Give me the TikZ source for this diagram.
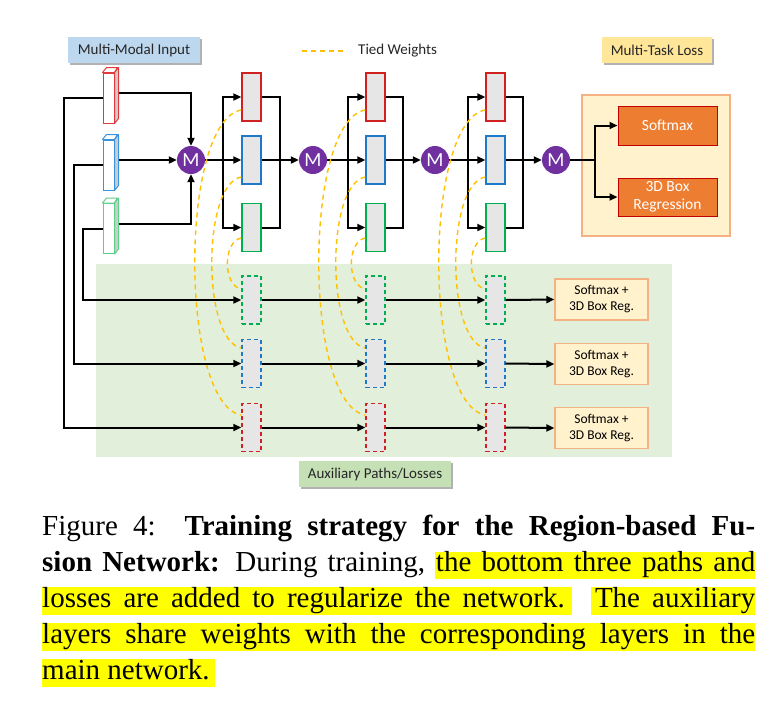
\documentclass[tikz,border=0pt]{standalone}
\usepackage{fontspec}
\setmainfont{Carlito}
\newfontfamily\capfont{Liberation Serif}
\usetikzlibrary{arrows.meta,shadows,calc}
\definecolor{cred}{HTML}{D02020}
\definecolor{cblue}{HTML}{1F78C8}
\definecolor{cgreen}{HTML}{00B050}
\definecolor{cgreenl}{HTML}{5FD08A}
\definecolor{cbluel}{HTML}{3C92DC}
\definecolor{credl}{HTML}{E03A3A}
\definecolor{blkfill}{HTML}{E6E6E6}
\definecolor{mpurple}{HTML}{7030A0}
\definecolor{tiedcol}{HTML}{FFC000}
\definecolor{auxbg}{HTML}{E2EFDA}
\definecolor{auxlab}{HTML}{C5E0B4}
\definecolor{inlab}{HTML}{BDD7EE}
\definecolor{losslab}{HTML}{FFE699}
\definecolor{lossbg}{HTML}{FFF2CC}
\definecolor{lossborder}{HTML}{F4B183}
\definecolor{orangebox}{HTML}{ED7D31}
\definecolor{orangeborder}{HTML}{C00000}
\definecolor{hly}{HTML}{FFFF00}
\begin{document}
\begin{tikzpicture}[x=1pt,y=-1pt,
  blk/.style={rectangle, minimum width=19pt, minimum height=48pt, inner sep=0pt, fill=blkfill, line width=1.4pt},
  blkaux/.style={blk, dashed, dash pattern=on 4pt off 3pt},
  wire/.style={line width=2pt, black},
  arr/.style={wire, -{Triangle[length=8pt,width=7pt]}},
  tiedline/.style={draw=tiedcol, line width=1.4pt, dash pattern=on 5pt off 4pt},
  lab/.style={rectangle, inner sep=0pt, text=black!85, font=\fontsize{15}{16}\selectfont, minimum height=26pt, drop shadow={shadow xshift=2pt, shadow yshift=-2pt, fill=black, opacity=0.3}},
  mcirc/.style={circle, fill=mpurple, minimum size=28pt, inner sep=0pt, text=white, font=\fontsize{20}{20}\selectfont},
  infront/.style={rectangle, minimum width=11pt, minimum height=50pt, inner sep=0pt, fill=white, line width=1pt},
  outbox/.style={rectangle, draw=lossborder, fill=lossbg, line width=1.2pt, minimum width=93pt, minimum height=41pt, inner sep=0pt, align=center, font=\fontsize{13.5}{16}\selectfont},
  losstask/.style={rectangle, draw=orangeborder, fill=orangebox, line width=1pt, minimum width=99pt, inner sep=0pt, align=center, text=white, font=\fontsize{15.5}{18}\selectfont},
  capline/.style={anchor=base west, inner sep=0pt, font=\capfont\fontsize{29}{35}\selectfont}
]
\useasboundingbox (0,0) rectangle (778,724);
\fill[white] (0,0) rectangle (778,724);

% backgrounds
\node[rectangle, fill=auxbg, minimum width=576pt, minimum height=193pt, inner sep=0pt] (auxbg) at (384,360.5) {};
\node[rectangle, draw=lossborder, fill=lossbg, line width=1.2pt, minimum width=148pt, minimum height=141pt, inner sep=0pt] (lossbg) at (656,165.5) {};

% labels
\node[lab, fill=inlab, minimum width=132pt] (inlab) at (134,50) {Multi-Modal Input};
\node[lab, fill=losslab, minimum width=110pt] (losslab) at (657,50) {Multi-Task Loss};
\node[lab, fill=auxlab, minimum width=152pt] (auxlab) at (375,474) {Auxiliary Paths/Losses};
\coordinate (tw1) at (302,51);
\coordinate (tw2) at (343,51);
\draw[tiedline] (tw1) -- (tw2);
\node[anchor=west, inner sep=0pt, text=black!85, font=\fontsize{15}{16}\selectfont] (twlab) at (358,51) {Tied Weights};

% input cuboids
\foreach \n/\c/\y in {inR/credl/98, inB/cbluel/165, inG/cgreenl/228.5}{
  \node[infront, draw=\c] (\n) at (108.5,\y) {};
  \draw[\c, line width=1pt, fill=white, line join=round] (\n.north west) -- ++(4,-5) -- ++(11,0) -- (\n.north east) -- cycle;
  \draw[\c, line width=1pt, fill=black!20, line join=round] (\n.north east) -- ++(4,-5) -- ($(\n.south east)+(4,-5)$) -- (\n.south east) -- cycle;
}

% merge nodes
\node[mcirc] (M1) at (191,160) {M};
\node[mcirc] (M2) at (313,160) {M};
\node[mcirc] (M3) at (435,160) {M};
\node[mcirc] (M4) at (556,160) {M};

% inputs to M1
\draw[arr] ($(inR.east)+(4,-5)$) -| (M1.north);
\draw[arr] ($(inB.east)+(4,-5)$) -- (M1.west);
\draw[arr] ($(inG.east)+(4,-5)$) -| (M1.south);

% stages
\foreach \s/\x/\b/\r in {1/251.5/223/280, 2/375.5/348/403, 3/495.5/468/523}{
  \pgfmathtruncatemacro\nx{\s+1}
  \node[blk, draw=cred] (r\s) at (\x,97) {};
  \node[blk, draw=cblue] (b\s) at (\x,160) {};
  \node[blk, draw=cgreen] (g\s) at (\x,227.5) {};
  \node[blkaux, draw=cgreen] (ag\s) at (\x,300) {};
  \node[blkaux, draw=cblue] (ab\s) at (\x,363.5) {};
  \node[blkaux, draw=cred] (ar\s) at (\x,427.5) {};
  \coordinate (br\s) at (\b,160);
  \coordinate (mg\s) at (\r,160);
  \draw[wire] (M\s.east) -- (br\s);
  \draw[arr] (br\s) -- (b\s.west);
  \draw[arr] (br\s) |- (r\s.west);
  \draw[arr] (br\s) |- (g\s.west);
  \draw[wire] (r\s.east) -| (mg\s);
  \draw[wire] (g\s.east) -| (mg\s);
  \draw[arr] (b\s.east) -- (M\nx.west);
  % tied weights
  \draw[tiedline] ([yshift=-13pt]r\s.west) to[out=190,in=170,looseness=0.53] ([yshift=12.5pt]ar\s.west);
  \draw[tiedline] ([yshift=-17pt]b\s.west) to[out=190,in=170,looseness=0.6] ([yshift=15.5pt]ab\s.west);
  \draw[tiedline] ([yshift=-10.5pt]g\s.west) to[out=190,in=170,looseness=0.95] ([yshift=11pt]ag\s.west);
}

% auxiliary paths
\coordinate (kR) at (64,0);
\coordinate (kB) at (74,0);
\coordinate (kG) at (83,0);
\draw[arr] (inR.west) -- (inR.west -| kR) |- (ar1.west);
\draw[arr] (inB.west) -- (inB.west -| kB) |- (ab1.west);
\draw[arr] (inG.west) -- (inG.west -| kG) |- (ag1.west);

\node[outbox] (og) at (601.5,299.5) {Softmax +\\3D Box Reg.};
\node[outbox] (ob) at (601.5,364) {Softmax +\\3D Box Reg.};
\node[outbox] (or) at (601.5,428) {Softmax +\\3D Box Reg.};

\foreach \c/\o in {g/og, b/ob, r/or}{
  \draw[arr] (a\c1.east) -- (a\c2.west);
  \draw[arr] (a\c2.east) -- (a\c3.west);
  \draw[arr] (a\c3.east) -- (\o.west);
}

% multi-task loss
\node[losstask, minimum height=39pt] (sm) at (667.5,125.5) {Softmax};
\node[losstask, minimum height=38pt] (rg) at (667.5,197) {3D Box\\Regression};
\coordinate (br4) at (595,160);
\draw[wire] (M4.east) -- (br4);
\draw[arr] (br4) |- (sm.west);
\draw[arr] (br4) |- (rg.west);

% caption highlights
\fill[hly] (435,552) rectangle (755,579);
\fill[hly] (42,587) rectangle (572,615);
\fill[hly] (591,587) rectangle (755,615);
\fill[hly] (42,623) rectangle (755,651);
\fill[hly] (42,659) rectangle (215,687);

% caption
\node[capline] (c1) at (42,535) {\makebox[713pt][s]{Figure 4:\hspace{3pt} \textbf{Training strategy for the Region-based Fu-}}};
\node[capline] (c2) at (42,571) {\makebox[713pt][s]{\textbf{sion Network:} During training, the bottom three paths and}};
\node[capline] (c3) at (42,607) {\makebox[713pt][s]{losses are added to regularize the network.\hspace{6pt} The auxiliary}};
\node[capline] (c4) at (42,643) {\makebox[713pt][s]{layers share weights with the corresponding layers in the}};
\node[capline] (c5) at (42,679) {main network.};
\end{tikzpicture}
\end{document}
